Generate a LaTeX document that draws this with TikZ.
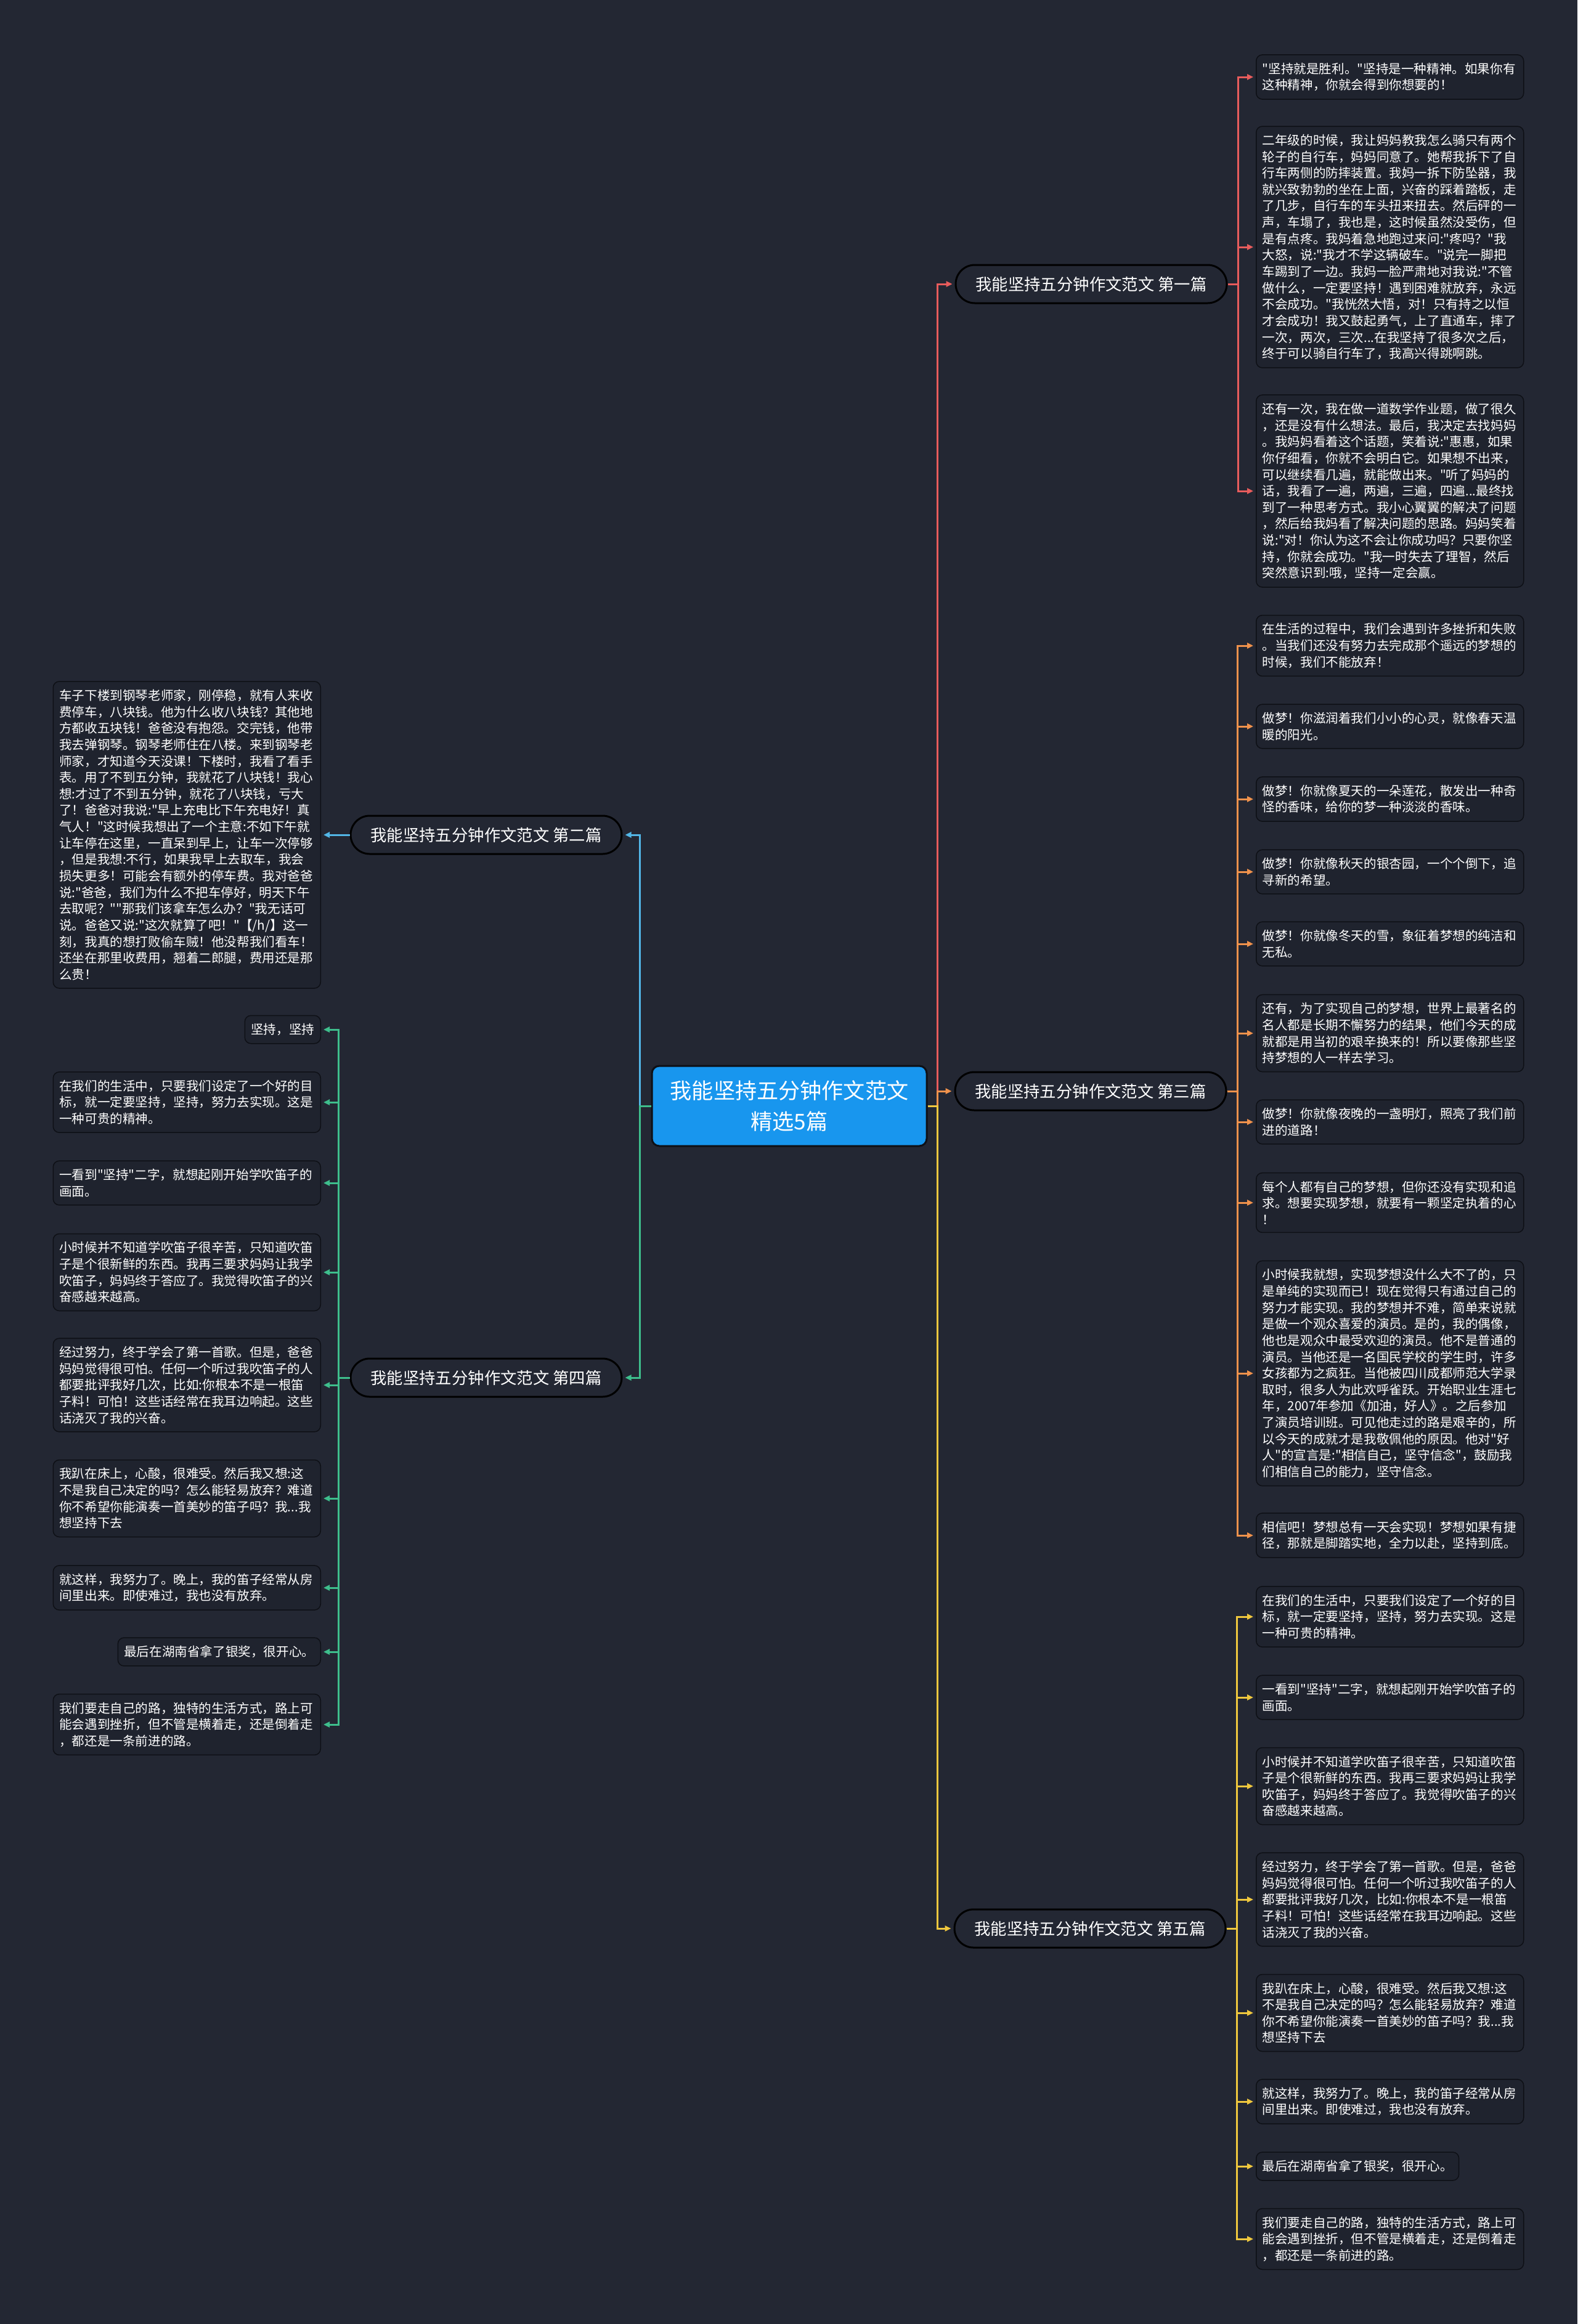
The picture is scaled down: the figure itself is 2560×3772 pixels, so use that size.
\documentclass[tikz,border=0pt]{standalone}
\usepackage{fontspec}
\newfontfamily\cjkfont{Noto Sans CJK SC}
\usetikzlibrary{arrows.meta,positioning}

\definecolor{mapBg}{RGB}{35,39,51}
\definecolor{leafFill}{RGB}{31,35,46}
\definecolor{leafEdge}{RGB}{14,16,22}
\definecolor{rootBlue}{RGB}{24,150,238}
\definecolor{essayRed}{RGB}{232,92,92}
\definecolor{essayBlue}{RGB}{82,182,230}
\definecolor{essayOrange}{RGB}{240,146,76}
\definecolor{essayGreen}{RGB}{62,190,140}
\definecolor{essayYellow}{RGB}{240,200,62}

\newcommand{\leaffont}{\cjkfont\fontsize{5.86pt}{7.58pt}\selectfont}
\newcommand{\partfont}{\cjkfont\fontsize{7.5pt}{9pt}\selectfont}
\newcommand{\rootfont}{\cjkfont\fontsize{10pt}{14.2pt}\selectfont}

% texts shared by 第四篇 and 第五篇
\newcommand{\txtGoal}{在我们的生活中，只要我们设定了一个好的目\\标，就一定要坚持，坚持，努力去实现。这是\\一种可贵的精神。}
\newcommand{\txtWord}{一看到"坚持"二字，就想起刚开始学吹笛子的\\画面。}
\newcommand{\txtChild}{小时候并不知道学吹笛子很辛苦，只知道吹笛\\子是个很新鲜的东西。我再三要求妈妈让我学\\吹笛子，妈妈终于答应了。我觉得吹笛子的兴\\奋感越来越高。}
\newcommand{\txtSong}{经过努力，终于学会了第一首歌。但是，爸爸\\妈妈觉得很可怕。任何一个听过我吹笛子的人\\都要批评我好几次，比如:你根本不是一根笛\\子料！可怕！这些话经常在我耳边响起。这些\\话浇灭了我的兴奋。}
\newcommand{\txtBed}{我趴在床上，心酸，很难受。然后我又想:这\\不是我自己决定的吗？怎么能轻易放弃？难道\\你不希望你能演奏一首美妙的笛子吗？我...我\\想坚持下去}
\newcommand{\txtNight}{就这样，我努力了。晚上，我的笛子经常从房\\间里出来。即使难过，我也没有放弃。}
\newcommand{\txtPrize}{最后在湖南省拿了银奖，很开心。}
\newcommand{\txtRoad}{我们要走自己的路，独特的生活方式，路上可\\能会遇到挫折，但不管是横着走，还是倒着走\\，都还是一条前进的路。}

\begin{document}
\begin{tikzpicture}[
    x=0.1mm, y=-0.1mm,
    leafbase/.style={draw=leafEdge, line width=0.15mm, fill=leafFill,
      rounded corners=1mm, text=white, font=\leaffont, align=left,
      inner xsep=1mm, inner ysep=1.3mm},
    leaf/.style={leafbase, text width=41.4mm},
    shortleaf/.style={leafbase},
    part/.style={draw=black, line width=0.3mm, fill=mapBg,
      rounded corners=3.1mm, minimum width=44mm, minimum height=6.2mm,
      inner sep=0pt, text=white, font=\partfont},
    root/.style={draw=leafEdge, line width=0.3mm, fill=rootBlue,
      rounded corners=1.2mm, minimum width=44.6mm, minimum height=13mm,
      align=center, text=white, font=\rootfont},
    link/.style={line width=0.3mm, -{Triangle[length=1mm,width=0.9mm]},
      shorten >=0.4mm}
  ]
  \fill[mapBg] (0,0) rectangle (2560,3772);

  % centre and the five essays
  \node[root] (root) at (1281,1795) {我能坚持五分钟作文范文\\精选5篇};
  \node[part] (part1) at (1771,461) {我能坚持五分钟作文范文 第一篇};
  \node[part] (part2) at (789,1355) {我能坚持五分钟作文范文 第二篇};
  \node[part] (part3) at (1770,1771) {我能坚持五分钟作文范文 第三篇};
  \node[part] (part4) at (789,2236) {我能坚持五分钟作文范文 第四篇};
  \node[part] (part5) at (1769,3130) {我能坚持五分钟作文范文 第五篇};

  \draw[link, essayRed] (root.east) -- ++(16,0) |- (part1.west);
  \draw[link, essayOrange] (root.east) -- ++(16,0) |- (part3.west);
  \draw[link, essayYellow] (root.east) -- ++(16,0) |- (part5.west);
  \draw[link, essayBlue] (root.west) -- ++(-18,0) |- (part2.east);
  \draw[link, essayGreen] (root.west) -- ++(-18,0) |- (part4.east);

  % 第一篇
  \node[leaf, anchor=west] (p1n1) at (2038,125)
    {"坚持就是胜利。"坚持是一种精神。如果你有\\这种精神，你就会得到你想要的！};
  \node[leaf, anchor=west] (p1n2) at (2038,401)
    {二年级的时候，我让妈妈教我怎么骑只有两个\\轮子的自行车，妈妈同意了。她帮我拆下了自\\行车两侧的防摔装置。我妈一拆下防坠器，我\\就兴致勃勃的坐在上面，兴奋的踩着踏板，走\\了几步，自行车的车头扭来扭去。然后砰的一\\声，车塌了，我也是，这时候虽然没受伤，但\\是有点疼。我妈着急地跑过来问:"疼吗？"我\\大怒，说:"我才不学这辆破车。"说完一脚把\\车踢到了一边。我妈一脸严肃地对我说:"不管\\做什么，一定要坚持！遇到困难就放弃，永远\\不会成功。"我恍然大悟，对！只有持之以恒\\才会成功！我又鼓起勇气，上了直通车，摔了\\一次，两次，三次...在我坚持了很多次之后，\\终于可以骑自行车了，我高兴得跳啊跳。};
  \node[leaf, anchor=west] (p1n3) at (2038,797)
    {还有一次，我在做一道数学作业题，做了很久\\，还是没有什么想法。最后，我决定去找妈妈\\。我妈妈看着这个话题，笑着说:"惠惠，如果\\你仔细看，你就不会明白它。如果想不出来，\\可以继续看几遍，就能做出来。"听了妈妈的\\话，我看了一遍，两遍，三遍，四遍...最终找\\到了一种思考方式。我小心翼翼的解决了问题\\，然后给我妈看了解决问题的思路。妈妈笑着\\说:"对！你认为这不会让你成功吗？只要你坚\\持，你就会成功。"我一时失去了理智，然后\\突然意识到:哦，坚持一定会赢。};
  \foreach \n in {1,2,3}
    \draw[link, essayRed] (part1.east) -- ++(17,0) |- (p1n\n.west);

  % 第二篇
  \node[leaf, anchor=east] (p2n1) at (521,1355)
    {车子下楼到钢琴老师家，刚停稳，就有人来收\\费停车，八块钱。他为什么收八块钱？其他地\\方都收五块钱！爸爸没有抱怨。交完钱，他带\\我去弹钢琴。钢琴老师住在八楼。来到钢琴老\\师家，才知道今天没课！下楼时，我看了看手\\表。用了不到五分钟，我就花了八块钱！我心\\想:才过了不到五分钟，就花了八块钱，亏大\\了！爸爸对我说:"早上充电比下午充电好！真\\气人！"这时候我想出了一个主意:不如下午就\\让车停在这里，一直呆到早上，让车一次停够\\，但是我想:不行，如果我早上去取车，我会\\损失更多！可能会有额外的停车费。我对爸爸\\说:"爸爸，我们为什么不把车停好，明天下午\\去取呢？""那我们该拿车怎么办？"我无话可\\说。爸爸又说:"这次就算了吧！"【/h/】这一\\刻，我真的想打败偷车贼！他没帮我们看车！\\还坐在那里收费用，翘着二郎腿，费用还是那\\么贵！};
  \draw[link, essayBlue] (part2.west) -- (p2n1.east);

  % 第三篇
  \node[leaf, anchor=west] (p3n1) at (2038,1048)
    {在生活的过程中，我们会遇到许多挫折和失败\\。当我们还没有努力去完成那个遥远的梦想的\\时候，我们不能放弃！};
  \node[leaf, anchor=west] (p3n2) at (2038,1179)
    {做梦！你滋润着我们小小的心灵，就像春天温\\暖的阳光。};
  \node[leaf, anchor=west] (p3n3) at (2038,1297)
    {做梦！你就像夏天的一朵莲花，散发出一种奇\\怪的香味，给你的梦一种淡淡的香味。};
  \node[leaf, anchor=west] (p3n4) at (2038,1415)
    {做梦！你就像秋天的银杏园，一个个倒下，追\\寻新的希望。};
  \node[leaf, anchor=west] (p3n5) at (2038,1532)
    {做梦！你就像冬天的雪，象征着梦想的纯洁和\\无私。};
  \node[leaf, anchor=west] (p3n6) at (2038,1677)
    {还有，为了实现自己的梦想，世界上最著名的\\名人都是长期不懈努力的结果，他们今天的成\\就都是用当初的艰辛换来的！所以要像那些坚\\持梦想的人一样去学习。};
  \node[leaf, anchor=west] (p3n7) at (2038,1821)
    {做梦！你就像夜晚的一盏明灯，照亮了我们前\\进的道路！};
  \node[leaf, anchor=west] (p3n8) at (2038,1952)
    {每个人都有自己的梦想，但你还没有实现和追\\求。想要实现梦想，就要有一颗坚定执着的心\\！};
  \node[leaf, anchor=west] (p3n9) at (2038,2229)
    {小时候我就想，实现梦想没什么大不了的，只\\是单纯的实现而已！现在觉得只有通过自己的\\努力才能实现。我的梦想并不难，简单来说就\\是做一个观众喜爱的演员。是的，我的偶像，\\他也是观众中最受欢迎的演员。他不是普通的\\演员。当他还是一名国民学校的学生时，许多\\女孩都为之疯狂。当他被四川成都师范大学录\\取时，很多人为此欢呼雀跃。开始职业生涯七\\年，2007年参加《加油，好人》。之后参加\\了演员培训班。可见他走过的路是艰辛的，所\\以今天的成就才是我敬佩他的原因。他对"好\\人"的宣言是:"相信自己，坚守信念"，鼓励我\\们相信自己的能力，坚守信念。};
  \node[leaf, anchor=west] (p3n10) at (2038,2492)
    {相信吧！梦想总有一天会实现！梦想如果有捷\\径，那就是脚踏实地，全力以赴，坚持到底。};
  \foreach \n in {1,...,10}
    \draw[link, essayOrange] (part3.east) -- ++(17,0) |- (p3n\n.west);

  % 第四篇
  \node[shortleaf, anchor=east] (p4n1) at (521,1671) {坚持，坚持};
  \foreach \n/\y/\t in {2/1789/\txtGoal, 3/1920/\txtWord, 4/2065/\txtChild,
                        5/2248/\txtSong, 6/2432/\txtBed, 7/2577/\txtNight,
                        9/2799/\txtRoad} {
    \node[leaf, anchor=east] (p4n\n) at (521,\y) {\t};
  }
  \node[shortleaf, anchor=east] (p4n8) at (521,2681) {\txtPrize};
  \foreach \n in {1,...,9}
    \draw[link, essayGreen] (part4.west) -- ++(-18,0) |- (p4n\n.east);

  % 第五篇
  \foreach \n/\y/\t in {1/2624/\txtGoal, 2/2755/\txtWord, 3/2899/\txtChild,
                        4/3083/\txtSong, 5/3267/\txtBed, 6/3411/\txtNight,
                        8/3634/\txtRoad} {
    \node[leaf, anchor=west] (p5n\n) at (2038,\y) {\t};
  }
  \node[shortleaf, anchor=west] (p5n7) at (2038,3516) {\txtPrize};
  \foreach \n in {1,...,8}
    \draw[link, essayYellow] (part5.east) -- ++(17,0) |- (p5n\n.west);
\end{tikzpicture}
\end{document}
